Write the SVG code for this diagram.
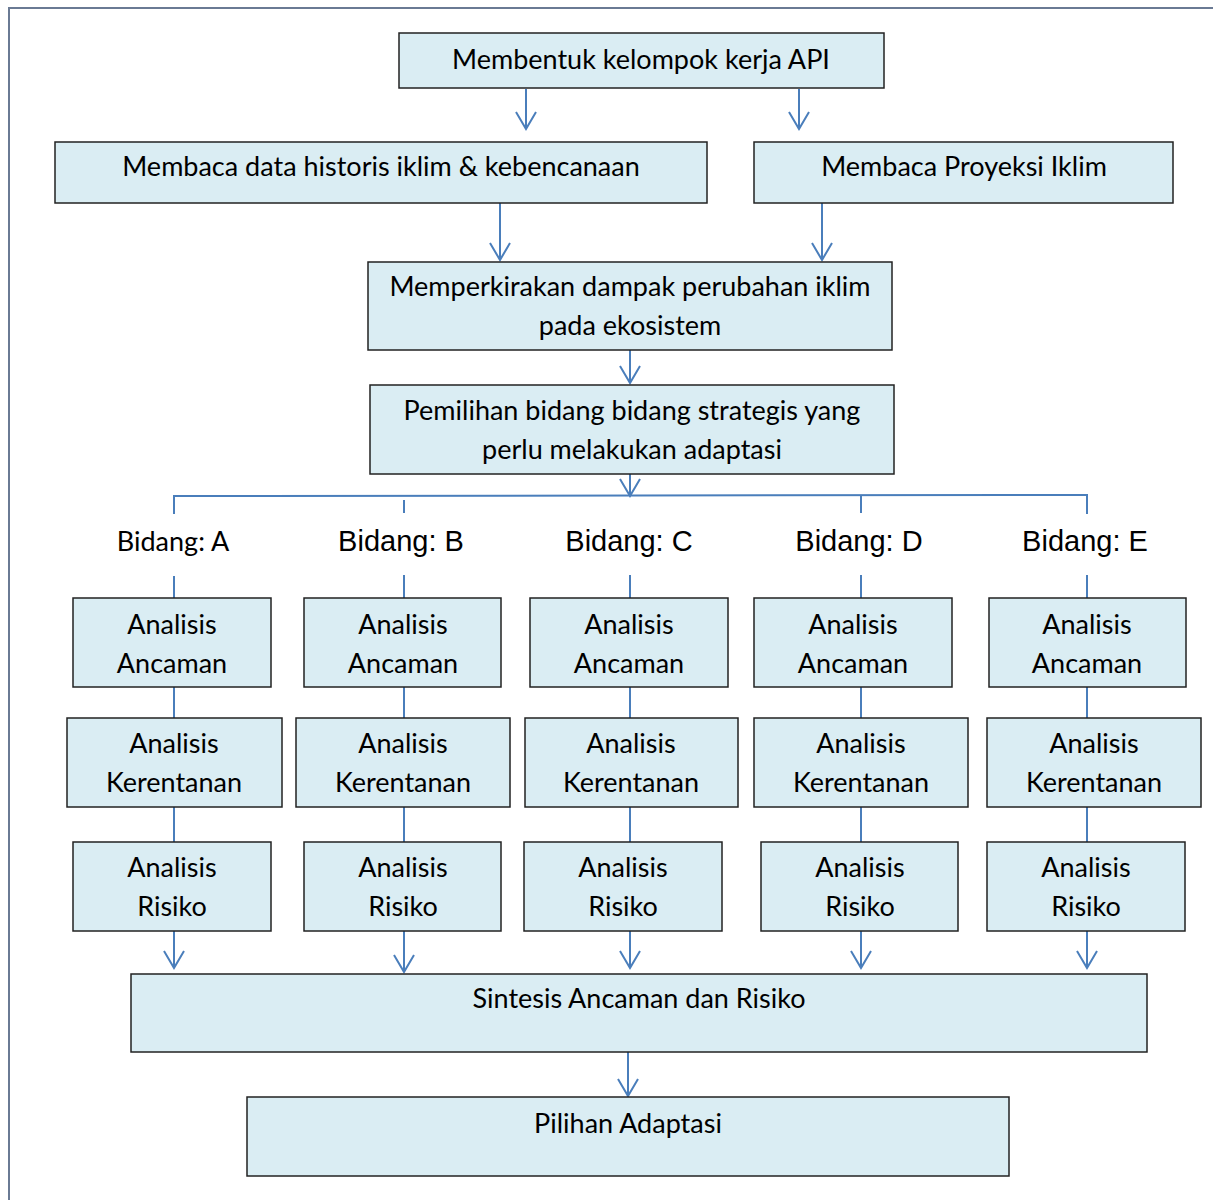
<svg xmlns="http://www.w3.org/2000/svg" width="1213" height="1200" viewBox="0 0 1213 1200">
<defs>
<marker id="arr" markerUnits="userSpaceOnUse" markerWidth="24" markerHeight="24" refX="20" refY="12" orient="auto" viewBox="0 0 24 24">
<path d="M3,2 L20,12 L3,22" fill="none" stroke="#4a7ebb" stroke-width="2"/>
</marker>
</defs>
<style>
.box{fill:#daedf3;stroke:#222;stroke-width:1.5}
.t{font-family:Lato,"Noto Sans",sans-serif;font-size:27px;fill:#000;text-anchor:middle}
.b{font-family:"Liberation Sans",Arial,sans-serif;font-size:29px;fill:#000;text-anchor:middle}
.c{fill:none;stroke:#4a7ebb;stroke-width:2}
</style>
<rect width="1213" height="1200" fill="#fff"/>
<path d="M9,1200 L9,8 L1213,8" fill="none" stroke="#6a7a94" stroke-width="2"/>

<g id="connectors">
<line class="c" x1="526" y1="89" x2="526" y2="129" marker-end="url(#arr)"/>
<line class="c" x1="799" y1="89" x2="799" y2="129" marker-end="url(#arr)"/>
<line class="c" x1="500" y1="203" x2="500" y2="260" marker-end="url(#arr)"/>
<line class="c" x1="822" y1="203" x2="822" y2="260" marker-end="url(#arr)"/>
<line class="c" x1="630" y1="350" x2="630" y2="383" marker-end="url(#arr)"/>
<line class="c" x1="630" y1="447" x2="630" y2="496" marker-end="url(#arr)"/>
<path class="c" d="M174,514 L174,496 L1087,495 L1087,514"/>
<line class="c" x1="404" y1="500" x2="404" y2="513"/>
<line class="c" x1="861" y1="496" x2="861" y2="513"/>
<line class="c" x1="174" y1="576" x2="174" y2="598"/>
<line class="c" x1="404" y1="575" x2="404" y2="598"/>
<line class="c" x1="630" y1="575" x2="630" y2="598"/>
<line class="c" x1="861" y1="575" x2="861" y2="598"/>
<line class="c" x1="1087" y1="575" x2="1087" y2="598"/>
<line class="c" x1="174" y1="687" x2="174" y2="718"/>
<line class="c" x1="404" y1="687" x2="404" y2="718"/>
<line class="c" x1="630" y1="687" x2="630" y2="718"/>
<line class="c" x1="861" y1="687" x2="861" y2="718"/>
<line class="c" x1="1087" y1="687" x2="1087" y2="718"/>
<line class="c" x1="174" y1="807" x2="174" y2="842"/>
<line class="c" x1="404" y1="807" x2="404" y2="842"/>
<line class="c" x1="630" y1="807" x2="630" y2="842"/>
<line class="c" x1="861" y1="807" x2="861" y2="842"/>
<line class="c" x1="1087" y1="807" x2="1087" y2="842"/>
<line class="c" x1="174" y1="931" x2="174" y2="968" marker-end="url(#arr)"/>
<line class="c" x1="404" y1="931" x2="404" y2="972" marker-end="url(#arr)"/>
<line class="c" x1="630" y1="931" x2="630" y2="968" marker-end="url(#arr)"/>
<line class="c" x1="861" y1="931" x2="861" y2="968" marker-end="url(#arr)"/>
<line class="c" x1="1087" y1="931" x2="1087" y2="968" marker-end="url(#arr)"/>
<line class="c" x1="628" y1="1052" x2="628" y2="1096" marker-end="url(#arr)"/>
</g>

<g id="n1"><rect class="box" x="399" y="33" width="485" height="55"/><text class="t" x="641" y="69">Membentuk kelompok kerja API</text></g>
<g id="n2"><rect class="box" x="55" y="142" width="652" height="61"/><text class="t" x="381" y="176">Membaca data historis iklim &amp; kebencanaan</text></g>
<g id="n3"><rect class="box" x="754" y="142" width="419" height="61"/><text class="t" x="964" y="176">Membaca Proyeksi Iklim</text></g>
<g id="n4"><rect class="box" x="368" y="262" width="524" height="88"/><text class="t" x="630" y="296">Memperkirakan dampak perubahan iklim</text><text class="t" x="630" y="335">pada ekosistem</text></g>
<g id="n5"><rect class="box" x="370" y="385" width="524" height="89"/><text class="t" x="632" y="420">Pemilihan bidang bidang strategis yang</text><text class="t" x="632" y="459">perlu melakukan adaptasi</text></g>

<g id="bidA"><text class="t" x="173" y="551">Bidang: A</text></g>
<g id="bidB"><text class="b" x="401" y="551">Bidang: B</text></g>
<g id="bidC"><text class="b" x="629" y="551">Bidang: C</text></g>
<g id="bidD"><text class="b" x="859" y="551">Bidang: D</text></g>
<g id="bidE"><text class="b" x="1085" y="551">Bidang: E</text></g>

<g id="ancA"><rect class="box" x="73" y="598" width="198" height="89"/><text class="t" x="172" y="634">Analisis</text><text class="t" x="172" y="673">Ancaman</text></g>
<g id="ancB"><rect class="box" x="304" y="598" width="197" height="89"/><text class="t" x="403" y="634">Analisis</text><text class="t" x="403" y="673">Ancaman</text></g>
<g id="ancC"><rect class="box" x="530" y="598" width="198" height="89"/><text class="t" x="629" y="634">Analisis</text><text class="t" x="629" y="673">Ancaman</text></g>
<g id="ancD"><rect class="box" x="754" y="598" width="198" height="89"/><text class="t" x="853" y="634">Analisis</text><text class="t" x="853" y="673">Ancaman</text></g>
<g id="ancE"><rect class="box" x="989" y="598" width="197" height="89"/><text class="t" x="1087" y="634">Analisis</text><text class="t" x="1087" y="673">Ancaman</text></g>

<g id="kerA"><rect class="box" x="67" y="718" width="215" height="89"/><text class="t" x="174" y="753">Analisis</text><text class="t" x="174" y="792">Kerentanan</text></g>
<g id="kerB"><rect class="box" x="296" y="718" width="214" height="89"/><text class="t" x="403" y="753">Analisis</text><text class="t" x="403" y="792">Kerentanan</text></g>
<g id="kerC"><rect class="box" x="525" y="718" width="213" height="89"/><text class="t" x="631" y="753">Analisis</text><text class="t" x="631" y="792">Kerentanan</text></g>
<g id="kerD"><rect class="box" x="754" y="718" width="214" height="89"/><text class="t" x="861" y="753">Analisis</text><text class="t" x="861" y="792">Kerentanan</text></g>
<g id="kerE"><rect class="box" x="987" y="718" width="214" height="89"/><text class="t" x="1094" y="753">Analisis</text><text class="t" x="1094" y="792">Kerentanan</text></g>

<g id="risA"><rect class="box" x="73" y="842" width="198" height="89"/><text class="t" x="172" y="877">Analisis</text><text class="t" x="172" y="916">Risiko</text></g>
<g id="risB"><rect class="box" x="304" y="842" width="197" height="89"/><text class="t" x="403" y="877">Analisis</text><text class="t" x="403" y="916">Risiko</text></g>
<g id="risC"><rect class="box" x="524" y="842" width="198" height="89"/><text class="t" x="623" y="877">Analisis</text><text class="t" x="623" y="916">Risiko</text></g>
<g id="risD"><rect class="box" x="761" y="842" width="197" height="89"/><text class="t" x="860" y="877">Analisis</text><text class="t" x="860" y="916">Risiko</text></g>
<g id="risE"><rect class="box" x="987" y="842" width="198" height="89"/><text class="t" x="1086" y="877">Analisis</text><text class="t" x="1086" y="916">Risiko</text></g>

<g id="sintesis"><rect class="box" x="131" y="974" width="1016" height="78"/><text class="t" x="639" y="1008">Sintesis Ancaman dan Risiko</text></g>
<g id="pilihan"><rect class="box" x="247" y="1097" width="762" height="79"/><text class="t" x="628" y="1133">Pilihan Adaptasi</text></g>
</svg>
